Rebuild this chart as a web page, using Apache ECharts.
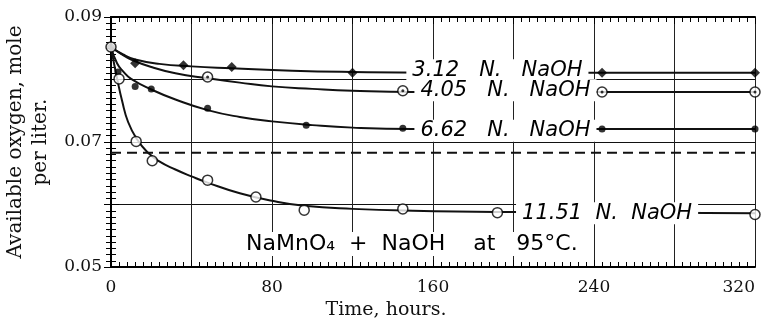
<!DOCTYPE html>
<html>
<head>
<meta charset="utf-8">
<script src="https://cdn.jsdelivr.net/npm/echarts@6/dist/echarts.min.js"></script>
<style>
html,body{margin:0;padding:0;background:#fff;}
#chart{width:763px;height:326px;}
</style>
</head>
<body>
<div id="chart"></div>
<script>
// ---- data (hours, available oxygen mole/liter) ----
const xTicks = [0, 80, 160, 240, 320];
const yTicks = [0.05, 0.07, 0.09];

// measured points
const pts312 = [[0,0.0852],[12,0.0826],[36,0.0823],[60,0.0820],[120,0.0811],[244,0.0811],[320,0.0811]];
const pts405 = [[48,0.0804],[145,0.0782],[244,0.0780],[320,0.0780]];
const pts662 = [[3.5,0.0812],[12,0.0789],[20,0.0785],[48,0.0754],[97,0.0727],[145,0.0722],[244,0.0721],[320,0.0721]];
const pts1151 = [[0,0.0852],[4,0.0801],[12.5,0.0701],[20.5,0.0670],[48,0.0639],[72,0.0612],[96,0.0591],[145,0.0593],[192,0.0587],[320,0.0584]];

// fitted curves
const curve312 = [[0,0.0852],[6,0.0840],[12,0.0832],[24,0.0825],[40,0.0821],[60,0.0818],[90,0.0814],[120,0.0812],[160,0.0811],[320,0.0811]];
const curve405 = [[0,0.0852],[5,0.0841],[10,0.0832],[20,0.0820],[32,0.0810],[48,0.0802],[64,0.0795],[80,0.0789],[100,0.0785],[120,0.0782],[150,0.0780],[320,0.0780]];
const curve662 = [[0,0.0852],[3,0.0826],[6,0.0813],[10,0.0801],[20,0.0784],[32,0.0768],[48,0.0751],[64,0.0740],[80,0.0733],[100,0.0727],[120,0.0723],[150,0.0721],[320,0.0721]];
const curve1151 = [[0,0.0852],[1,0.0834],[3,0.0802],[5.5,0.0766],[8.5,0.0732],[13,0.0704],[18,0.0684],[24,0.0669],[32,0.0656],[40,0.0645],[48,0.0635],[64,0.0618],[80,0.0606],[96,0.0598],[120,0.0593],[150,0.0590],[200,0.0588],[320,0.0586]];

const dashedLevel = [[0,0.0683],[320,0.0683]];

const seriesNames = ['3.12   N.   NaOH', '4.05   N.   NaOH', '6.62   N.   NaOH', '11.51  N.  NaOH'];
const noteText = 'NaMnO\u2084  +  NaOH    at   95\u00b0C.';
// annotation anchors (hours, value)
const labelAnchors = [[192,0.0815],[196,0.0783],[196,0.0718],[246.5,0.0586]];
const noteAnchor = [[149.5,0.0537]];

const serif = 'DejaVu Serif';
const sans = 'DejaVu Sans';

const chart = echarts.init(document.getElementById('chart'), null, {renderer:'canvas'});

function curve(data){
  return {type:'line', data:data, smooth:0.5, showSymbol:false, symbol:'none',
    lineStyle:{color:'#111', width:2}, z:3, silent:true, animation:false};
}

function textSeries(anchors, texts, font, lh){
  return {type:'custom', data:anchors, z:20, silent:true, clip:false,
    encode:{x:0, y:1},
    renderItem:(params, api) => {
      const p = api.coord([api.value(0), api.value(1)]);
      return {type:'text', x:p[0], y:p[1], z2:100,
        style:{text:texts[params.dataIndex], font:font, fill:'#000',
          align:'center', verticalAlign:'middle', textAlign:'center', textVerticalAlign:'middle',
          backgroundColor:'#fff', padding:[1,6], lineHeight:lh}};
    }};
}

const tickCommon = {
  axisLine:{show:true, lineStyle:{color:'#000', width:2}},
  axisTick:{show:true, inside:true, length:7, lineStyle:{color:'#000', width:1}},
  minorTick:{show:true, splitNumber:10, length:5, lineStyle:{color:'#000', width:1}},
};

const option = {
  animation:false,
  backgroundColor:'#fff',
  grid:{left:111, right:8, top:17, bottom:59, containLabel:false, outerBoundsMode:'none'},
  xAxis:[{
    type:'value', min:0, max:320, interval:40, position:'bottom',
    ...tickCommon,
    splitLine:{show:true, lineStyle:{color:'#222', width:1}},
    axisLabel:{margin:12, color:'#111', fontFamily:serif, fontSize:17, alignMaxLabel:'right',
      formatter:v => xTicks.indexOf(v) >= 0 ? String(v) : ''},
    name:'Time, hours.', nameLocation:'middle', nameGap:26,
    nameTextStyle:{fontFamily:serif, fontSize:19, color:'#111', padding:[0,94,0,0]}
  },{
    type:'value', min:0, max:320, interval:40, position:'top',
    ...tickCommon,
    splitLine:{show:false}, axisLabel:{show:false}
  }],
  yAxis:[{
    type:'value', min:0.05, max:0.09, interval:0.01, position:'left',
    ...tickCommon,
    axisTick:{show:true, inside:true, length:8, lineStyle:{color:'#000'}},
    splitLine:{show:true, lineStyle:{color:'#111', width:1}},
    axisLabel:{margin:9, color:'#111', fontFamily:serif, fontSize:17,
      formatter:v => { for (const t of yTicks) if (Math.abs(t - v) < 1e-6) return t.toFixed(2); return ''; }},
    name:'Available oxygen, mole\nper liter.', nameLocation:'middle', nameGap:55, nameRotate:90,
    nameTextStyle:{fontFamily:serif, fontSize:20, color:'#111', lineHeight:25, align:'center'}
  },{
    type:'value', min:0.05, max:0.09, interval:0.01, position:'right',
    ...tickCommon,
    splitLine:{show:false}, axisLabel:{show:false}
  }],
  series:[
    curve(curve312),
    curve(curve405),
    curve(curve662),
    curve(curve1151),
    {type:'line', data:dashedLevel, showSymbol:false, symbol:'none', z:3, silent:true,
      lineStyle:{color:'#111', width:2, type:[10,6]}},
    {type:'scatter', data:pts312, symbol:'diamond', symbolSize:[10,10],
      itemStyle:{color:'#000'}, z:4, silent:true},
    {type:'scatter', data:pts405, symbol:'circle', symbolSize:10,
      itemStyle:{color:'#fff', borderColor:'#000', borderWidth:1.5}, z:4, silent:true},
    {type:'scatter', data:pts405, symbol:'circle', symbolSize:3,
      itemStyle:{color:'#000'}, z:5, silent:true},
    {type:'scatter', data:pts662, symbol:'circle', symbolSize:7,
      itemStyle:{color:'#000'}, z:4, silent:true},
    {type:'scatter', data:pts1151, symbol:'circle', symbolSize:10,
      itemStyle:{color:'#fff', borderColor:'#000', borderWidth:1.5}, z:4, silent:true},
    textSeries(labelAnchors, seriesNames, 'italic 21px "DejaVu Sans"', 20),
    textSeries(noteAnchor, [noteText], '22px "DejaVu Sans"', 22)
  ]
};
chart.setOption(option);
</script>
</body>
</html>
